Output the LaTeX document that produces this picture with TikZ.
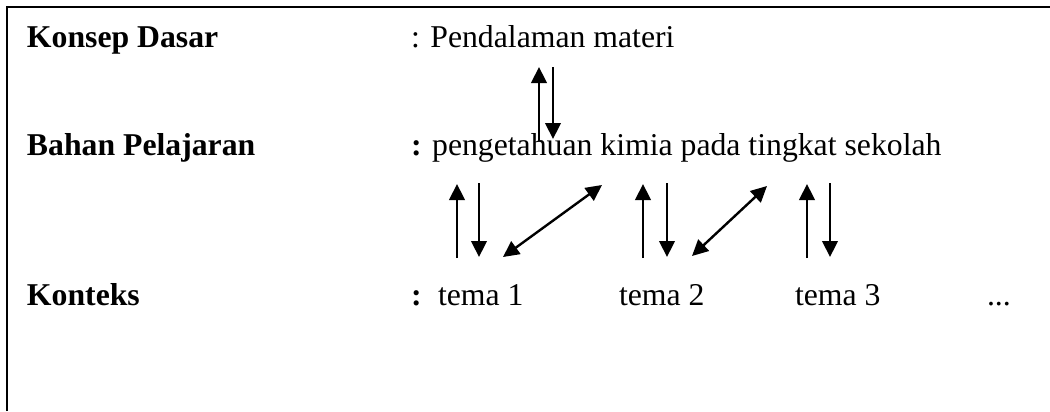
\documentclass[tikz,border=0pt]{standalone}
\usepackage{fontspec}
\setmainfont{Liberation Serif}
\usetikzlibrary{arrows.meta}
\tikzset{
  lbl/.style={anchor=base west,inner sep=0pt,outer sep=0pt,font=\fontsize{11.9}{14}\selectfont},
  lblb/.style={lbl,font=\fontsize{11.9}{14}\selectfont\bfseries},
  conn/.style={line width=0.9pt,-{Triangle[length=6pt,width=5.8pt]}},
  dconn/.style={line width=0.9pt,{Triangle[length=6pt,width=5.8pt]}-{Triangle[length=6pt,width=5.8pt]}},
  frame/.style={line width=0.8pt}
}
\begin{document}
\begin{tikzpicture}[x=0.375pt,y=-0.375pt]
\useasboundingbox (0,0) rectangle (1050,411);
% frame
\draw[frame] (7,411) -- (7,7) -- (1050,7);
% labels
\node[lblb] (kd) at (27,47) {Konsep Dasar};
\node[lbl] (pm) at (411,47) {: Pendalaman materi};
\node[lblb] (bp) at (27,155) {Bahan Pelajaran};
\node[lbl] (pk) at (411,155) {{\bfseries :} pengetahuan kimia pada tingkat sekolah};
\node[lblb] (kt) at (27,305) {Konteks};
\node[lblb] (kc) at (411,305) {:};
\node[lbl] (t1) at (438,305) {tema 1};
\node[lbl] (t2) at (619,305) {tema 2};
\node[lbl] (t3) at (795,305) {tema 3};
\node[lbl] (dots) at (987,305) {...};
% connector end points
\coordinate (a0u) at (539,141); \coordinate (a0t) at (539,67);
\coordinate (b0u) at (553,67);  \coordinate (b0t) at (553,139);
\coordinate (a1u) at (457,258); \coordinate (a1t) at (457,184);
\coordinate (b1u) at (479,183); \coordinate (b1t) at (479,257);
\coordinate (d1a) at (503,257); \coordinate (d1b) at (602,185);
\coordinate (a2u) at (643,258); \coordinate (a2t) at (643,184);
\coordinate (b2u) at (667,183); \coordinate (b2t) at (667,257);
\coordinate (d2a) at (692,256); \coordinate (d2b) at (767,186);
\coordinate (a3u) at (807,258); \coordinate (a3t) at (807,184);
\coordinate (b3u) at (830,183); \coordinate (b3t) at (830,257);
% connectors
\draw[conn] (a0u) -- (a0t);
\draw[conn] (b0u) -- (b0t);
\draw[conn] (a1u) -- (a1t);
\draw[conn] (b1u) -- (b1t);
\draw[dconn] (d1a) -- (d1b);
\draw[conn] (a2u) -- (a2t);
\draw[conn] (b2u) -- (b2t);
\draw[dconn] (d2a) -- (d2b);
\draw[conn] (a3u) -- (a3t);
\draw[conn] (b3u) -- (b3t);
\end{tikzpicture}
\end{document}
